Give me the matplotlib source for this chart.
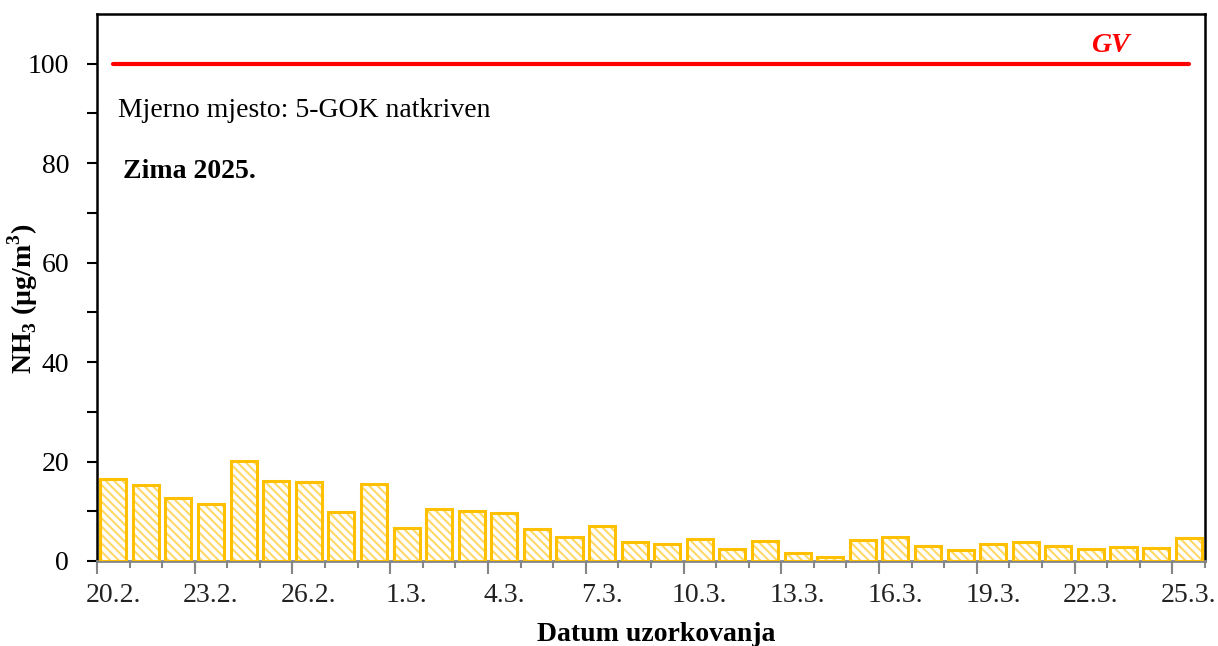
import matplotlib
matplotlib.use("Agg")
import matplotlib.pyplot as plt
import numpy as np

plt.rcParams['font.family'] = ['Liberation Serif', 'DejaVu Serif']
plt.rcParams['mathtext.fontset'] = 'custom'
plt.rcParams['mathtext.rm'] = 'Liberation Serif'
plt.rcParams['mathtext.bf'] = 'Liberation Serif:bold'
plt.rcParams['hatch.linewidth'] = 1.5

# Datumi uzorkovanja (20.2. - 25.3.)
dates = ['20.2.', '21.2.', '22.2.', '23.2.', '24.2.', '25.2.', '26.2.', '27.2.', '28.2.',
         '1.3.', '2.3.', '3.3.', '4.3.', '5.3.', '6.3.', '7.3.', '8.3.', '9.3.',
         '10.3.', '11.3.', '12.3.', '13.3.', '14.3.', '15.3.', '16.3.', '17.3.', '18.3.',
         '19.3.', '20.3.', '21.3.', '22.3.', '23.3.', '24.3.', '25.3.']

# Koncentracije NH3 (ug/m3)
nh3 = [16.4, 15.2, 12.7, 11.4, 20.1, 16.0, 15.8, 9.8, 15.4, 6.6, 10.4, 10.0, 9.6,
       6.5, 4.9, 7.1, 3.8, 3.5, 4.4, 2.5, 4.1, 1.7, 0.9, 4.3, 4.9, 3.1, 2.3, 3.5,
       3.8, 3.1, 2.5, 2.9, 2.7, 4.7]

# Granicna vrijednost
gv = [100] * len(dates)

x = np.arange(len(dates))

fig = plt.figure(figsize=(12.18, 6.46), dpi=100)
ax = fig.add_axes([0.0796, 0.1316, 0.9097, 0.8468])

# sarena ispuna pa rub
ax.bar(x, nh3, width=0.8, color='white', edgecolor='#FFD966', hatch='\\\\\\\\', linewidth=0, zorder=2)
ax.bar(x, nh3, width=0.8, color='none', edgecolor='#FFC000', linewidth=2.2, zorder=3)

ax.plot(x, gv, color='#FF0000', linewidth=3, solid_capstyle='round', zorder=4)
ax.text(30.6, 103.7, 'GV', color='#FF0000', fontsize=20, fontweight='bold', fontstyle='italic',
        ha='center', va='center')

ax.text(0.16, 90.5, 'Mjerno mjesto: 5-GOK natkriven', fontsize=20, ha='left', va='center')
ax.text(0.3, 78.4, 'Zima 2025.', fontsize=20, fontweight='bold', ha='left', va='center')

ax.set_xlim(-0.5, len(dates) - 0.5)
ax.set_ylim(0, 110)

# y os
ax.set_yticks([0, 20, 40, 60, 80, 100])
ax.set_yticks(np.arange(10, 110, 20), minor=True)
ax.tick_params(axis='y', which='both', direction='out', length=7, width=1.5, labelsize=20, pad=13)

# x os: oznake svaki treci dan, crtice na granicama
ax.set_xticks(x[::3])
ax.set_xticklabels(dates[::3])
ax.set_xticks(np.arange(-0.5, len(dates), 1), minor=True)
ax.tick_params(axis='x', which='major', length=0, labelsize=20, pad=16, labelcolor='#222222')
ax.tick_params(axis='x', which='minor', direction='out', length=5, width=1.5, color='#868686')
sec = ax.secondary_xaxis('bottom')
sec.set_xticks(np.arange(-0.5, len(dates), 3))
sec.set_xticklabels([])
sec.tick_params(direction='out', length=9, width=1.5, color='#868686')
sec.spines['bottom'].set_visible(False)

for s in ['left', 'top', 'right']:
    ax.spines[s].set_linewidth(1.8)
    ax.spines[s].set_color('black')
ax.spines['bottom'].set_linewidth(2)
ax.spines['bottom'].set_color('#868686')

ax.set_xlabel('Datum uzorkovanja', fontsize=20, fontweight='bold')
ax.xaxis.set_label_coords(0.505, -0.112)
ax.set_ylabel('NH$_\\mathbf{3}$ (µg/m$^\\mathbf{3}$)', fontsize=20, fontweight='bold')
ax.yaxis.set_label_coords(-0.051, 0.48)

fig.savefig('out.png', dpi=100)
